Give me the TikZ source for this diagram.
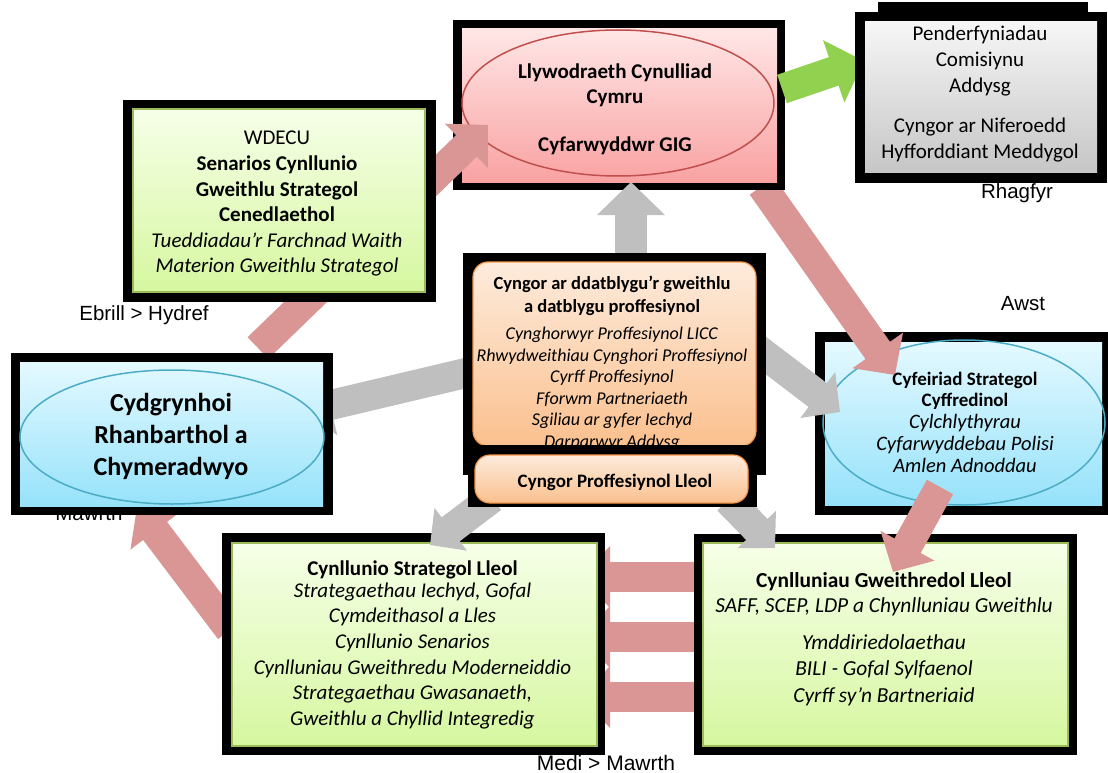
\documentclass[tikz,border=0pt]{standalone}
\usepackage{fontspec}
\setmainfont{Carlito}
\newfontfamily\labelfont{Liberation Sans}
\usetikzlibrary{arrows.meta, shapes.geometric}

\definecolor{arrowpink}{RGB}{217,150,148}
\definecolor{arrowgray}{RGB}{191,191,191}
\definecolor{arrowgreen}{RGB}{146,208,80}
\definecolor{pinktop}{RGB}{255,230,230}
\definecolor{pinkbot}{RGB}{249,162,162}
\definecolor{pinkline}{RGB}{192,80,77}
\definecolor{graytop}{RGB}{246,246,246}
\definecolor{graybot}{RGB}{198,198,198}
\definecolor{greentop}{RGB}{246,255,232}
\definecolor{greenbot}{RGB}{214,247,160}
\definecolor{greenline}{RGB}{155,187,89}
\definecolor{bluetop}{RGB}{228,249,255}
\definecolor{bluebot}{RGB}{150,226,250}
\definecolor{blueline}{RGB}{75,172,198}
\definecolor{orangetop}{RGB}{253,235,220}
\definecolor{orangebot}{RGB}{251,192,142}
\definecolor{orangeline}{RGB}{247,150,70}

\tikzset{
  frame/.style={rectangle, fill=black, inner sep=0pt},
  panel/.style={rectangle, inner sep=0pt, line width=1.2pt},
  greenpanel/.style={panel, draw=greenline, top color=greentop, bottom color=greenbot},
  bluepanel/.style={panel, top color=bluetop, bottom color=bluebot},
  pinkpanel/.style={panel, top color=pinktop, bottom color=pinkbot},
  graypanel/.style={panel, top color=graytop, bottom color=graybot},
  orangepanel/.style={panel, draw=orangeline, rounded corners=15pt, top color=orangetop, bottom color=orangebot},
  oval/.style={ellipse, inner sep=0pt, line width=1.5pt},
  txt/.style={align=center, inner sep=0pt, anchor=north},
  month/.style={font=\labelfont\fontsize{20.5}{24}\selectfont, inner sep=0pt, anchor=base},
  flow/.style={line width=30pt, -{Triangle[width=60pt,length=30pt]}},
  pinkflow/.style={flow, draw=arrowpink},
  grayflow/.style={flow, draw=arrowgray},
  greenflow/.style={flow, draw=arrowgreen, -{Triangle[width=64pt,length=32pt]}}
}

\begin{document}
\begin{tikzpicture}[x=1pt, y=-1pt]
  \useasboundingbox (0,0) rectangle (1108,773);

  % month labels
  \node[month] (mawrth) at (89,520) {Mawrth};
  \node[month] (rhagfyr) at (1017,198) {Rhagfyr};
  \node[month] (awst) at (1023,310) {Awst};
  \node[month] (ebrill) at (144,320) {Ebrill > Hydref};
  \node[month, font=\labelfont\fontsize{21}{24}\selectfont] (medi) at (606,770) {Medi > Mawrth};

  % boxes underneath the arrows
  \node[frame, minimum width=295pt, minimum height=183pt] (csc) at (962.5,423.5) {};
  \node[bluepanel, minimum width=277pt, minimum height=163pt] (csc-in) at (963.5,423.5) {};
  \node[oval, draw=blueline, minimum width=282pt, minimum height=165pt] (csc-o) at (964,422.5) {};

  \node[frame, minimum width=383pt, minimum height=221pt] (lop) at (885.5,644.5) {};
  \node[greenpanel, minimum width=365pt, minimum height=203pt] (lop-in) at (885.5,644.5) {};

  % links between the two local boxes
  \coordinate (bar1) at (694,577);
  \coordinate (bar2) at (694,637);
  \coordinate (bar3) at (694,697);
  \coordinate (bar1-e) at (580,577);
  \coordinate (bar2-e) at (580,637);
  \coordinate (bar3-e) at (580,697);
  \draw[pinkflow] (bar1) -- (bar1-e);
  \draw[pinkflow] (bar2) -- (bar2-e);
  \draw[pinkflow] (bar3) -- (bar3-e);

  \coordinate (lsp-out) at (230,630);
  \coordinate (reg-in) at (137,507);
  \draw[pinkflow] (lsp-out) -- (reg-in);

  \node[frame, minimum width=383pt, minimum height=222pt] (lsp) at (413.5,644) {};
  \node[greenpanel, minimum width=365pt, minimum height=203pt] (lsp-in) at (414.5,644.5) {};

  \coordinate (gov-out) at (762,186);
  \coordinate (csc-in1) at (895,375);
  \draw[pinkflow] (gov-out) -- (csc-in1);

  \node[frame, minimum width=332pt, minimum height=170pt] (gov) at (619,105) {};
  \node[pinkpanel, minimum width=315pt, minimum height=153pt] (gov-in) at (619.5,105.5) {};
  \node[oval, draw=pinkline, minimum width=312pt, minimum height=146pt] (gov-o) at (618,103) {};

  % arrows
  \coordinate (reg-out) at (258,348);
  \coordinate (gov-in1) at (488,125);
  \draw[pinkflow] (reg-out) -- (gov-in1);

  \coordinate (csc-out) at (940,487);
  \coordinate (lop-in1) at (893,572);
  \draw[pinkflow] (csc-out) -- (lop-in1);

  \coordinate (cdp-up) at (631,258);
  \coordinate (gov-in2) at (631,182);
  \draw[grayflow, line width=32pt, -{Triangle[width=66pt,length=33pt]}] (cdp-up) -- (gov-in2);

  \coordinate (cdp-left) at (470,372);
  \coordinate (reg-in2) at (301,412);
  \draw[grayflow] (cdp-left) -- (reg-in2);

  \coordinate (cdp-right) at (752,345);
  \coordinate (csc-in2) at (840,412);
  \draw[grayflow, -{Triangle[width=56pt,length=28pt]}] (cdp-right) -- (csc-in2);

  \coordinate (cpl-left) at (492,498);
  \coordinate (lsp-in1) at (430,545);
  \draw[grayflow, -{Triangle[width=52pt,length=26pt]}] (cpl-left) -- (lsp-in1);

  \coordinate (cpl-right) at (728,500);
  \coordinate (lop-in2) at (775,548);
  \draw[grayflow, -{Triangle[width=52pt,length=26pt]}] (cpl-right) -- (lop-in2);

  \coordinate (gov-right) at (782,89);
  \coordinate (dec-in) at (864,61);
  \draw[greenflow] (gov-right) -- (dec-in);

  % boxes on top
  \node[frame, minimum width=313pt, minimum height=202pt] (wdecu) at (279.5,201) {};
  \node[greenpanel, minimum width=292pt, minimum height=183pt] (wdecu-in) at (279,200.5) {};

  \node[frame, minimum width=252pt, minimum height=171pt] (dec) at (981,97.5) {};
  \node[frame, minimum width=210pt, minimum height=10pt] (dec-top) at (983,7.5) {};
  \node[graypanel, minimum width=232pt, minimum height=150pt] (dec-in) at (981,97) {};

  \node[frame, minimum width=322pt, minimum height=162pt] (reg) at (172,434) {};
  \node[bluepanel, minimum width=303pt, minimum height=144pt] (reg-in) at (171.5,434) {};
  \node[oval, draw=blueline, minimum width=304pt, minimum height=134pt] (reg-o) at (172,437) {};

  \node[frame, minimum width=303pt, minimum height=222pt] (cdp) at (614.5,364) {};
  \node[orangepanel, minimum width=283pt, minimum height=184pt] (cdp-in) at (614.5,354) {};

  % texts
  \node[txt, font=\bfseries\fontsize{21}{25}\selectfont] (gov-t) at (615,63.5)
    {Llywodraeth Cynulliad\\Cymru\\[23pt]Cyfarwyddwr GIG};
  \node[txt, font=\fontsize{21}{25.7}\selectfont] (dec-t) at (980,26)
    {Penderfyniadau\\Comisiynu\\Addysg\\[15pt]Cyngor ar Niferoedd\\Hyfforddiant Meddygol};
  \node[txt, font=\fontsize{21}{25.6}\selectfont] (wdecu-t) at (277,131)
    {WDECU\\\textbf{Senarios Cynllunio}\\\textbf{Gweithlu Strategol}\\\textbf{Cenedlaethol}\\
     \textit{Tueddiadau’r Farchnad Waith}\\\textit{Materion Gweithlu Strategol}};
  \node[txt, font=\fontsize{18}{21.5}\selectfont] (cdp-t) at (612,275.5)
    {\textbf{\fontsize{18.5}{21.5}\selectfont Cyngor ar ddatblygu’r gweithlu}\\[2.2pt]
     \textbf{\fontsize{18.5}{21.5}\selectfont a datblygu proffesiynol}\\[5.5pt]
     \textit{Cynghorwyr Proffesiynol LICC}\\\textit{Rhwydweithiau Cynghori Proffesiynol}\\
     \textit{Cyrff Proffesiynol}\\\textit{Fforwm Partneriaeth}\\
     \textit{Sgiliau ar gyfer Iechyd}\\\textit{Darparwyr Addysg}};
  \node[txt, font=\fontsize{20.5}{21.9}\selectfont] (csc-t) at (965,371.5)
    {\textbf{\fontsize{19}{21.9}\selectfont Cyfeiriad Strategol}\\
     \textbf{\fontsize{19}{21.9}\selectfont Cyffredinol}\\\textit{Cylchlythyrau}\\
     \textit{Cyfarwyddebau Polisi}\\\textit{Amlen Adnoddau}};
  \node[txt, font=\bfseries\fontsize{26}{31.7}\selectfont] (reg-t) at (171,393.5)
    {Cydgrynhoi\\Rhanbarthol a\\Chymeradwyo};
  \node[txt, font=\fontsize{21}{25.7}\selectfont] (lsp-t) at (412.5,560.5)
    {\textbf{Cynllunio Strategol Lleol}\\[-4pt]\textit{Strategaethau Iechyd, Gofal}\\
     \textit{Cymdeithasol a Lles}\\\textit{Cynllunio Senarios}\\
     \textit{Cynlluniau Gweithredu Moderneiddio}\\\textit{Strategaethau Gwasanaeth,}\\
     \textit{Gweithlu a Chyllid Integredig}};
  \node[txt, font=\fontsize{21.4}{26.4}\selectfont] (lop-t) at (884,572.5)
    {\textbf{Cynlluniau Gweithredol Lleol}\\[-2pt]\textit{SAFF, SCEP, LDP a Chynlluniau Gweithlu}\\[11pt]
     \textit{Ymddiriedolaethau}\\\textit{BILI - Gofal Sylfaenol}\\\textit{Cyrff sy’n Bartneriaid}};

  % local professional council sits over the bottom of the big orange box
  \node[frame, minimum width=289pt, minimum height=62pt] (cpl) at (612.5,476) {};
  \node[orangepanel, minimum width=273pt, minimum height=48pt] (cpl-in) at (611.5,479) {};
  \node[txt, font=\bfseries\fontsize{19}{21.5}\selectfont] (cpl-t) at (615,473.5)
    {Cyngor Proffesiynol Lleol};
\end{tikzpicture}
\end{document}
